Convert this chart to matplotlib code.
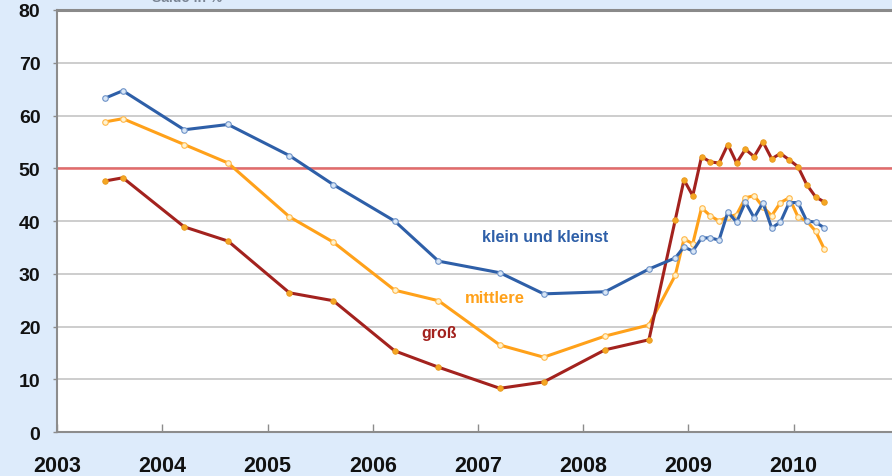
import pandas as pd
import matplotlib.pyplot as plt

plt.rcParams['font.family'] = ['Liberation Sans', 'DejaVu Sans']

# Survey dates: half-yearly until autumn 2008, monthly afterwards
dates = ['2003-06', '2003-08', '2004-03', '2004-08', '2005-03', '2005-08',
         '2006-03', '2006-08', '2007-03', '2007-08', '2008-03', '2008-08',
         '2008-11', '2008-12', '2009-01', '2009-02', '2009-03', '2009-04',
         '2009-05', '2009-06', '2009-07', '2009-08', '2009-09', '2009-10',
         '2009-11', '2009-12', '2010-01', '2010-02', '2010-03', '2010-04']

klein = [63.3, 64.7, 57.3, 58.3, 52.4, 46.9, 40.0, 32.4, 30.2, 26.2, 26.6, 30.9,
         33.0, 35.1, 34.3, 36.8, 36.8, 36.4, 41.7, 39.8, 43.6, 40.6, 43.5, 38.7,
         39.8, 43.5, 43.5, 40.0, 39.8, 38.7]
mittlere = [58.8, 59.4, 54.5, 51.0, 40.8, 36.0, 26.9, 24.9, 16.5, 14.2, 18.2, 20.3,
            29.7, 36.6, 35.7, 42.5, 41.0, 40.0, 40.8, 41.2, 44.4, 44.8, 42.7, 41.0,
            43.5, 44.4, 40.8, 40.0, 38.1, 34.7]
gross = [47.6, 48.2, 38.9, 36.2, 26.4, 24.9, 15.4, 12.3, 8.3, 9.5, 15.6, 17.5,
         40.2, 47.8, 44.8, 52.2, 51.2, 51.0, 54.5, 51.0, 53.6, 52.2, 55.0, 51.8,
         52.8, 51.6, 50.3, 46.9, 44.6, 43.6]

years = list(range(2003, 2011))
yticks = list(range(0, 81, 10))

# Month midpoints as decimal years
d = pd.to_datetime(dates)
t = d.year + (d.month - 0.5) / 12

bg = '#DDEBFB'
fig = plt.figure(figsize=(8.92, 4.77), dpi=100, facecolor=bg)
ax = fig.add_axes([0.064, 0.092, 0.946, 0.885])
ax.set_facecolor('white')

ax.set_xlim(2003, 2011.02)
ax.set_ylim(0, 80)

for y in yticks[1:]:
    ax.axhline(y, color='#C9C9C9', lw=1.3, zorder=1)
ax.axhline(50, color='#E36B6B', lw=1.8, zorder=2)

ax.plot(t, klein, color='#2E5FA8', lw=2.2, marker='o', ms=4,
        mfc='#D8E6F6', mec='#6E93C8', mew=0.8, zorder=4)
ax.plot(t, mittlere, color='#FFA11A', lw=2.2, marker='o', ms=4,
        mfc='#FFF3D0', mec='#FFB84A', mew=0.8, zorder=3)
ax.plot(t, gross, color='#A3221E', lw=2.2, marker='o', ms=4,
        mfc='#F5A623', mec='#E89A20', mew=0.6, zorder=3)

ax.text(2007.64, 37.0, 'klein und kleinst', color='#2E5FA8', fontsize=11.5,
        fontweight='bold', ha='center', va='center')
ax.text(2007.16, 25.6, 'mittlere', color='#FFA11A', fontsize=12,
        fontweight='bold', ha='center', va='center')
ax.text(2006.63, 18.8, 'groß', color='#A3221E', fontsize=11.5,
        fontweight='bold', ha='center', va='center')

ax.set_xticks(years)
ax.set_xticklabels([str(y) for y in years])
ax.set_yticks(yticks)
ax.tick_params(axis='x', direction='in', length=6, width=1, color='#8C8C8C',
               labelsize=15.5, pad=16.5)
ax.tick_params(axis='y', direction='out', length=3, width=1, color='#8C8C8C',
               labelsize=14, pad=9)
for lbl in ax.get_xticklabels() + ax.get_yticklabels():
    lbl.set_fontweight('bold')
    lbl.set_color('#111111')

for side in ['left', 'bottom']:
    ax.spines[side].set_color('#8C8C8C')
    ax.spines[side].set_linewidth(1.5)
ax.spines['top'].set_color('#8A8A8A')
ax.spines['top'].set_linewidth(2.2)
ax.spines['right'].set_visible(False)

# unit label sits at the very top edge, only its lower part shows
fig.text(0.17, 0.99, 'Saldo in %', fontsize=10, fontweight='bold',
         color='#7A8594', ha='left', va='bottom')

fig.savefig('out.png', dpi=100, facecolor=bg)
